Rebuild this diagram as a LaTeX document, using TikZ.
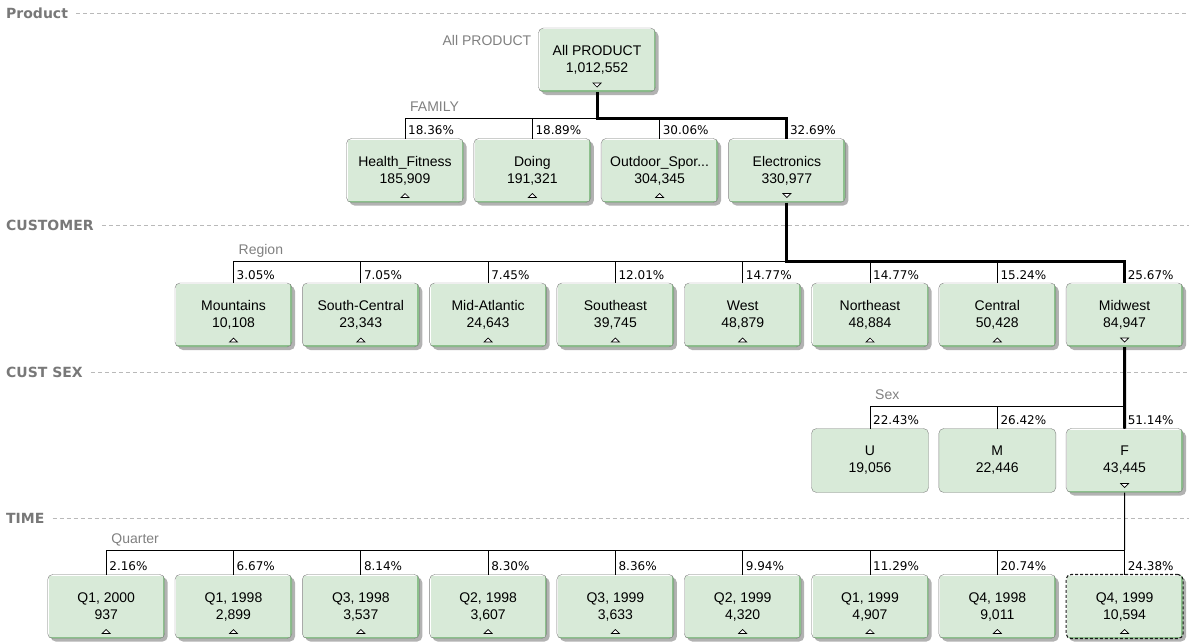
\documentclass[tikz,border=0pt]{standalone}
\usepackage{fontspec}
\setmainfont{Liberation Sans}
\newfontfamily\pctfont{DejaVu Sans}
\newfontfamily\levelfont{DejaVu Sans}
\usetikzlibrary{positioning, shadows}

\definecolor{cellfill}{RGB}{216,234,216}
\definecolor{cellshade}{RGB}{140,192,140}
\definecolor{cellborder}{RGB}{128,128,128}
\definecolor{labelgray}{RGB}{128,128,128}
\definecolor{levelgray}{RGB}{120,120,120}
\definecolor{dashgray}{RGB}{185,185,185}

\begin{document}
\begin{tikzpicture}[
    x=1pt, y=-1pt,
    node distance=10.3pt,
    member/.style={rectangle, rounded corners=5pt, draw=cellborder, fill=cellfill, minimum width=117pt, minimum height=64pt, inner sep=0pt, outer sep=0pt, align=center, font=\fontsize{14}{17}\selectfont},
    shaded/.style={member, drop shadow={shadow xshift=3pt, shadow yshift=-3pt, fill=black!30, opacity=1}},
    collapsed/.style={shaded, path picture={
        \draw[solid, sharp corners, white, line width=2pt] (path picture bounding box.south west) -- (path picture bounding box.north west) -- (path picture bounding box.north east);
        \draw[solid, sharp corners, cellshade, line width=4pt] (path picture bounding box.south west) -- (path picture bounding box.south east) -- (path picture bounding box.north east);
        \draw[solid, sharp corners, fill=white, draw=black, line width=0.7pt] ([xshift=-4pt, yshift=5pt]path picture bounding box.south) -- ++(8pt,0pt) -- ++(-4pt,4pt) -- cycle;}},
    expanded/.style={shaded, path picture={
        \draw[solid, sharp corners, white, line width=2pt] (path picture bounding box.south west) -- (path picture bounding box.north west) -- (path picture bounding box.north east);
        \draw[solid, sharp corners, cellshade, line width=4pt] (path picture bounding box.south west) -- (path picture bounding box.south east) -- (path picture bounding box.north east);
        \draw[solid, sharp corners, fill=white, draw=black, line width=0.7pt] ([xshift=-4pt, yshift=9pt]path picture bounding box.south) -- ++(8pt,0pt) -- ++(-4pt,-4pt) -- cycle;}},
    leaf/.style={member},
    selected/.style={draw=black!90, line width=1.1pt, dash pattern=on 3pt off 2pt},
    pct/.style={font=\pctfont\fontsize{12}{14}\selectfont, inner sep=1pt, anchor=base west, xshift=2pt, yshift=4pt},
    dimlabel/.style={text=labelgray, inner sep=1pt, anchor=base west, font=\fontsize{14}{17}\selectfont},
    level/.style={text=levelgray, inner sep=0pt, anchor=base west, font=\levelfont\bfseries\fontsize{14}{17}\selectfont},
    levelline/.style={dashgray, dash pattern=on 4pt off 3pt, line width=0.8pt},
    bus/.style={black, line width=0.8pt},
    hot/.style={black, line width=3pt}
]
    \useasboundingbox (0,0) rectangle (1189,641);
    \coordinate (rim) at (1189,0);

    % dimension levels
    \node[level] (lvprod) at (6,18.5) {Product};
    \node[level] (lvcust) at (6,230.5) {CUSTOMER};
    \node[level] (lvsex) at (6,377.5) {CUST SEX};
    \node[level] (lvtime) at (6,523) {TIME};
    \draw[levelline] ([xshift=8pt]lvprod.east) -- (lvprod.east -| rim);
    \draw[levelline] ([xshift=8pt]lvcust.east) -- (lvcust.east -| rim);
    \draw[levelline] ([xshift=8pt]lvsex.east) -- (lvsex.east -| rim);
    \draw[levelline] ([xshift=8pt]lvtime.east) -- (lvtime.east -| rim);

    \coordinate (fambus) at (405,118);
    \coordinate (regbus) at (233.5,261.5);
    \coordinate (sexbus) at (870,406);
    \coordinate (qtrbus) at (106.2,550);

    % root
    \node[expanded] (ap) at (597,60) {All PRODUCT\\1,012,552};
    \node[dimlabel, anchor=base east] (lblall) at ([xshift=-6pt, yshift=15pt]ap.west) {All PRODUCT};

    % family
    \node[dimlabel] (lblfam) at ([xshift=4pt, yshift=7pt]fambus) {FAMILY};
    \node[collapsed, label={[pct]north:18.36\%}] (hf) at (405,170.5) {Health\_Fitness\\185,909};
    \node[collapsed, right=of hf, label={[pct]north:18.89\%}] (dg) {Doing\\191,321};
    \node[collapsed, right=of dg, label={[pct]north:30.06\%}] (od) {Outdoor\_Spor...\\304,345};
    \node[expanded, right=of od, label={[pct]north:32.69\%}] (el) {Electronics\\330,977};

    % region
    \node[dimlabel] (lblreg) at ([xshift=4pt, yshift=7pt]regbus) {Region};
    \node[collapsed, label={[pct]north:3.05\%}] (mt) at (233.5,315) {Mountains\\10,108};
    \node[collapsed, right=of mt, label={[pct]north:7.05\%}] (sc) {South-Central\\23,343};
    \node[collapsed, right=of sc, label={[pct]north:7.45\%}] (ma) {Mid-Atlantic\\24,643};
    \node[collapsed, right=of ma, label={[pct]north:12.01\%}] (se) {Southeast\\39,745};
    \node[collapsed, right=of se, label={[pct]north:14.77\%}] (we) {West\\48,879};
    \node[collapsed, right=of we, label={[pct]north:14.77\%}] (ne) {Northeast\\48,884};
    \node[collapsed, right=of ne, label={[pct]north:15.24\%}] (ce) {Central\\50,428};
    \node[expanded, right=of ce, label={[pct]north:25.67\%}] (mw) {Midwest\\84,947};

    % sex
    \node[dimlabel] (lblsex) at ([xshift=4pt, yshift=7pt]sexbus) {Sex};
    \node[leaf, label={[pct]north:22.43\%}] (un) at (870,460.5) {U\\19,056};
    \node[leaf, right=of un, label={[pct]north:26.42\%}] (ml) {M\\22,446};
    \node[expanded, right=of ml, label={[pct]north:51.14\%}] (fe) {F\\43,445};

    % quarter
    \node[dimlabel] (lblqtr) at ([xshift=4pt, yshift=7pt]qtrbus) {Quarter};
    \node[collapsed, label={[pct]north:2.16\%}] (q1y00) at (106.2,606.5) {Q1, 2000\\937};
    \node[collapsed, right=of q1y00, label={[pct]north:6.67\%}] (q1y98) {Q1, 1998\\2,899};
    \node[collapsed, right=of q1y98, label={[pct]north:8.14\%}] (q3y98) {Q3, 1998\\3,537};
    \node[collapsed, right=of q3y98, label={[pct]north:8.30\%}] (q2y98) {Q2, 1998\\3,607};
    \node[collapsed, right=of q2y98, label={[pct]north:8.36\%}] (q3y99) {Q3, 1999\\3,633};
    \node[collapsed, right=of q3y99, label={[pct]north:9.94\%}] (q2y99) {Q2, 1999\\4,320};
    \node[collapsed, right=of q2y99, label={[pct]north:11.29\%}] (q1y99) {Q1, 1999\\4,907};
    \node[collapsed, right=of q1y99, label={[pct]north:20.74\%}] (q4y98) {Q4, 1998\\9,011};
    \node[collapsed, selected, right=of q4y98, label={[pct]north:24.38\%}] (q4y99) {Q4, 1999\\10,594};

    % buses
    \draw[bus] (hf.north) |- (el.north |- fambus) -- (el.north);
    \draw[bus] (dg.north) -- (dg.north |- fambus);
    \draw[bus] (od.north) -- (od.north |- fambus);
    \draw[bus] (mt.north) |- (mw.north |- regbus) -- (mw.north);
    \foreach \n in {sc,ma,se,we,ne,ce}
        \draw[bus] (\n.north) -- (\n.north |- regbus);
    \draw[bus] (un.north) |- (fe.north |- sexbus) -- (fe.north);
    \draw[bus] (ml.north) -- (ml.north |- sexbus);
    \draw[bus] (q1y00.north) |- (q4y99.north |- qtrbus) -- (q4y99.north);
    \foreach \n in {q1y98,q3y98,q2y98,q3y99,q2y99,q1y99,q4y98}
        \draw[bus] (\n.north) -- (\n.north |- qtrbus);

    % drill path
    \draw[hot] (ap.south) |- (el.north |- fambus) -- (el.north);
    \draw[hot] (el.south) |- (mw.north |- regbus) -- (mw.north);
    \draw[hot] (mw.south) -- (fe.north);
    \draw[bus] (fe.south) -- (q4y99.north |- qtrbus);

\end{tikzpicture}
\end{document}
